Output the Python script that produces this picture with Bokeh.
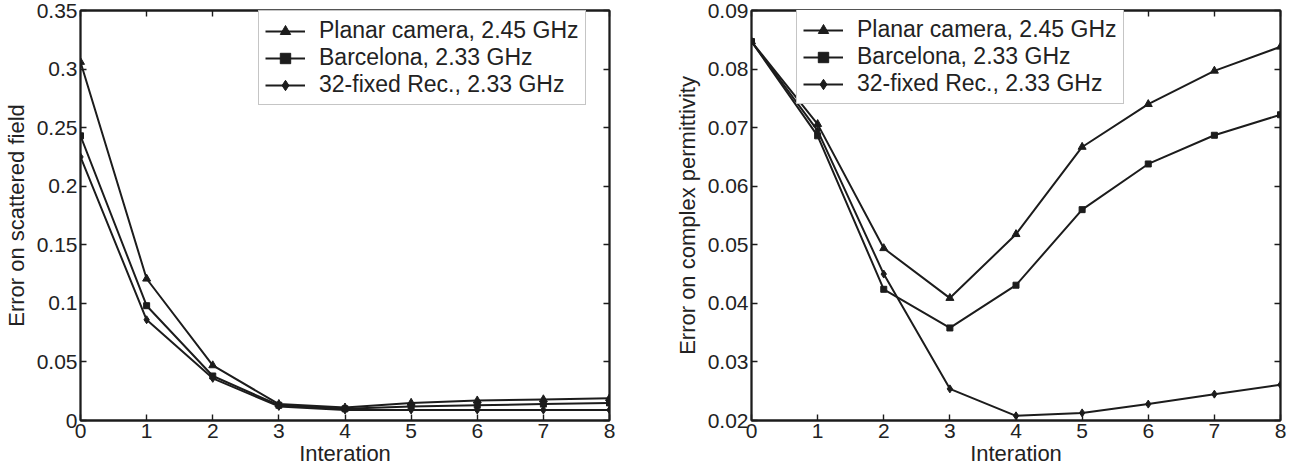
from bokeh.plotting import figure
from bokeh.layouts import row
from bokeh.models import Range1d, FixedTicker, LinearAxis, CustomJSTickFormatter, Legend, LegendItem
from bokeh.embed import file_html
from bokeh.resources import INLINE

# ---------------- data ----------------
iterations = [0, 1, 2, 3, 4, 5, 6, 7, 8]
series_names = ["Planar camera, 2.45 GHz", "Barcelona, 2.33 GHz", "32-fixed Rec., 2.33 GHz"]

planar_field = [0.306, 0.121, 0.047, 0.014, 0.011, 0.015, 0.017, 0.018, 0.019]
barcelona_field = [0.243, 0.098, 0.038, 0.013, 0.010, 0.012, 0.013, 0.014, 0.015]
fixed_field = [0.225, 0.086, 0.036, 0.012, 0.009, 0.009, 0.009, 0.009, 0.009]

planar_perm = [0.0847, 0.0706, 0.0494, 0.0409, 0.0518, 0.0667, 0.0740, 0.0797, 0.0838]
barcelona_perm = [0.0847, 0.0686, 0.0424, 0.0358, 0.0431, 0.0560, 0.0638, 0.0687, 0.0722]
fixed_perm = [0.0847, 0.0695, 0.0450, 0.0254, 0.0208, 0.0213, 0.0228, 0.0245, 0.0261]

x_ticks = [0, 1, 2, 3, 4, 5, 6, 7, 8]
field_ticks = [0, 0.05, 0.1, 0.15, 0.2, 0.25, 0.3, 0.35]
perm_ticks = [0.02, 0.03, 0.04, 0.05, 0.06, 0.07, 0.08, 0.09]

x_label = "Interation"
field_label = "Error on scattered field"
perm_label = "Error on complex permittivity"

# ---------------- style ----------------
FONT = "Liberation Sans"
INK = "#1c1c1c"
TXT = "#222222"
FRAME_W = 529
FRAME_H = 410
MARKERS = ["triangle", "square", "diamond"]
MSIZES = [8, 6, 8]

num_fmt = CustomJSTickFormatter(code="return (Math.round(tick*10000)/10000).toString();")
blank_fmt = CustomJSTickFormatter(code="return '';")


def style_axis(ax, ticker, labels=True):
    ax.ticker = FixedTicker(ticks=ticker)
    ax.major_tick_in = 6
    ax.major_tick_out = 0
    ax.minor_tick_line_color = None
    ax.axis_line_color = INK
    ax.axis_line_width = 1.8
    ax.major_tick_line_color = INK
    ax.major_tick_line_width = 1.4
    if labels:
        ax.formatter = num_fmt
        ax.major_label_text_font = FONT
        ax.major_label_text_font_size = "21px"
        ax.major_label_text_color = TXT
        ax.major_label_standoff = 3
        ax.axis_label_text_font = FONT
        ax.axis_label_text_font_size = "22px"
        ax.axis_label_text_font_style = "normal"
        ax.axis_label_text_color = TXT
    else:
        ax.formatter = blank_fmt
        ax.major_label_text_font_size = "1px"
        ax.major_label_standoff = 0


def make_plot(ys, yticks, yrange, ylabel, border_left, border_right, legend_x, legend_top_gap):
    p = figure(frame_width=FRAME_W, frame_height=FRAME_H,
               x_range=Range1d(0, 8), y_range=Range1d(*yrange),
               output_backend="svg", toolbar_location=None,
               min_border_left=border_left, min_border_right=border_right,
               min_border_top=10, min_border_bottom=52,
               background_fill_color="white", border_fill_color="white")
    p.grid.visible = False
    p.outline_line_color = INK
    p.outline_line_width = 1.8

    style_axis(p.xaxis[0], x_ticks)
    style_axis(p.yaxis[0], yticks)
    p.xaxis[0].axis_label = x_label
    p.xaxis[0].axis_label_standoff = 0
    p.yaxis[0].axis_label = ylabel
    p.yaxis[0].axis_label_standoff = 5

    top = LinearAxis()
    style_axis(top, x_ticks, labels=False)
    p.add_layout(top, "above")
    right = LinearAxis()
    style_axis(right, yticks, labels=False)
    p.add_layout(right, "right")

    items = []
    for name, y, m, s in zip(series_names, ys, MARKERS, MSIZES):
        r1 = p.line(iterations, y, line_color=INK, line_width=2)
        r2 = p.scatter(iterations, y, marker=m, size=s, fill_color=INK, line_color=INK)
        items.append(LegendItem(label=name, renderers=[r1, r2]))

    leg_h = 2 * 6 + 3 * 26
    legend = Legend(items=items, location=(legend_x, FRAME_H - legend_top_gap - leg_h),
                    label_text_font=FONT, label_text_font_size="23px", label_text_color=TXT,
                    glyph_width=40, glyph_height=26, label_height=26, label_standoff=14,
                    padding=6, spacing=0, margin=0,
                    border_line_color="#8c8c8c", border_line_width=1.2,
                    background_fill_color="white", background_fill_alpha=1)
    p.add_layout(legend, "center")
    return p


p1 = make_plot([planar_field, barcelona_field, fixed_field], field_ticks, (0, 0.35),
               field_label, 79, 62, 178, 5)
p2 = make_plot([planar_perm, barcelona_perm, fixed_perm], perm_ticks, (0.02, 0.09),
               perm_label, 80, 18, 45, 4)

layout = row(p1, p2, spacing=0)
open("out.html", "w").write(file_html(layout, INLINE))
